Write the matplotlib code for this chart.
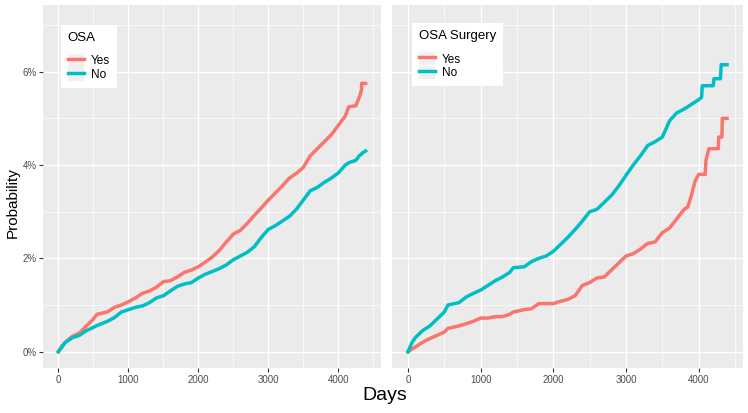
import matplotlib.pyplot as plt
import numpy as np
from matplotlib.lines import Line2D
from matplotlib.patches import Rectangle
from matplotlib.legend_handler import HandlerLine2D
from matplotlib.ticker import FuncFormatter, MultipleLocator

plt.rcParams["font.family"] = ["Liberation Sans", "DejaVu Sans"]

RED = "#F8766D"
BLUE = "#00BFC4"

# left panel: OSA yes / no  (days, cumulative probability in %)
osa_days = [0, 50, 100, 200, 300, 400, 500, 550, 700, 800, 900, 1000, 1100, 1200, 1300, 1400,
            1500, 1600, 1700, 1800, 1900, 2000, 2100, 2200, 2300, 2400, 2500, 2600, 2700,
            2800, 2900, 3000, 3100, 3200, 3300, 3400, 3500, 3600, 3700, 3800, 3900, 4000,
            4100, 4150, 4250, 4300, 4330, 4335, 4390]
osa_yes = [0, 0.12, 0.2, 0.33, 0.4, 0.55, 0.7, 0.8, 0.85, 0.95, 1.0, 1.07, 1.15, 1.25, 1.3, 1.38,
           1.5, 1.52, 1.6, 1.7, 1.75, 1.82, 1.92, 2.03, 2.17, 2.35, 2.52, 2.6, 2.75,
           2.92, 3.08, 3.25, 3.4, 3.55, 3.72, 3.82, 3.95, 4.2, 4.35, 4.5, 4.65, 4.85,
           5.05, 5.25, 5.27, 5.45, 5.6, 5.75, 5.75]
osa_no = [0, 0.1, 0.2, 0.3, 0.35, 0.45, 0.52, 0.56, 0.65, 0.73, 0.85, 0.9, 0.95, 0.98, 1.05, 1.15,
          1.2, 1.3, 1.4, 1.45, 1.48, 1.58, 1.66, 1.72, 1.78, 1.86, 1.97, 2.05, 2.13,
          2.25, 2.45, 2.62, 2.7, 2.8, 2.9, 3.05, 3.25, 3.45, 3.52, 3.63, 3.72, 3.83,
          4.0, 4.05, 4.1, 4.2, 4.23, 4.25, 4.3]

# right panel: OSA surgery yes / no
surg_days = [0, 50, 100, 200, 300, 400, 500, 550, 700, 800, 900, 1000, 1100, 1200, 1300, 1400,
             1450, 1600, 1700, 1800, 1900, 2000, 2100, 2200, 2300, 2400, 2500, 2600, 2700,
             2800, 2900, 3000, 3100, 3200, 3300, 3400, 3500, 3600, 3700, 3800, 3850, 3900,
             3950, 4000, 4040, 4050, 4090, 4100, 4140, 4200, 4210, 4270, 4275, 4300, 4310,
             4320, 4325, 4390]
surg_yes = [0, 0.05, 0.1, 0.2, 0.28, 0.35, 0.42, 0.5, 0.55, 0.6, 0.65, 0.72, 0.72, 0.75, 0.75, 0.8,
            0.85, 0.9, 0.92, 1.03, 1.03, 1.03, 1.08, 1.12, 1.2, 1.42, 1.48, 1.58, 1.6,
            1.75, 1.9, 2.05, 2.1, 2.2, 2.32, 2.35, 2.55, 2.65, 2.85, 3.05, 3.1, 3.35,
            3.65, 3.8, 3.8, 3.8, 3.8, 4.1, 4.35, 4.35, 4.35, 4.35, 4.6, 4.6, 4.6,
            4.6, 5.0, 5.0]
surg_no = [0, 0.18, 0.3, 0.45, 0.55, 0.7, 0.85, 1.0, 1.05, 1.17, 1.25, 1.32, 1.42, 1.52, 1.6, 1.7,
           1.8, 1.82, 1.93, 2.0, 2.05, 2.15, 2.3, 2.45, 2.62, 2.8, 3.0, 3.05, 3.2,
           3.35, 3.55, 3.78, 4.0, 4.2, 4.42, 4.5, 4.6, 4.95, 5.12, 5.2, 5.25, 5.3,
           5.35, 5.4, 5.45, 5.7, 5.7, 5.7, 5.7, 5.7, 5.85, 5.85, 5.85, 5.85, 6.15,
           6.15, 6.15, 6.15]

x_ticks = [0, 1000, 2000, 3000, 4000]
y_ticks = [0, 2, 4, 6]


class KeyHandler(HandlerLine2D):
    # ggplot style key: grey square behind the line
    def create_artists(self, legend, orig_handle, xdescent, ydescent, width, height, fontsize, trans):
        bg = Rectangle((-xdescent, -ydescent), width, height,
                       facecolor="#F0F0F0", edgecolor="none", transform=trans)
        arts = super().create_artists(legend, orig_handle, xdescent, ydescent, width, height, fontsize, trans)
        return [bg] + list(arts)


def style_panel(ax, show_ylabels):
    ax.set_facecolor("#EBEBEB")
    for s in ax.spines.values():
        s.set_visible(False)
    ax.set_xlim(-220, 4610)
    ax.set_ylim(-0.35, 7.43)
    ax.set_xticks(x_ticks)
    ax.set_yticks(y_ticks)
    ax.xaxis.set_minor_locator(MultipleLocator(500))
    ax.yaxis.set_minor_locator(MultipleLocator(1))
    ax.grid(which="major", color="white", lw=1.0)
    ax.grid(which="minor", color="white", lw=0.5)
    ax.set_axisbelow(True)
    ax.tick_params(which="minor", length=0)
    ax.tick_params(which="major", length=2.7, width=0.8, color="#333333",
                   labelsize=7, labelcolor="#4D4D4D", pad=2)
    ax.yaxis.set_major_formatter(FuncFormatter(lambda v, p: f"{v:.0f}%"))
    if not show_ylabels:
        ax.tick_params(axis="y", which="major", length=0, labelleft=False)


def add_legend(ax, title, anchor):
    handles = [Line2D([], [], color=RED, lw=2.5), Line2D([], [], color=BLUE, lw=2.5)]
    leg = ax.legend(handles, ["Yes", "No"], title=title, loc="upper left", bbox_to_anchor=anchor,
                    fontsize=8.5, title_fontsize=9.5, frameon=True, fancybox=False,
                    handlelength=1.35, handleheight=1.35, labelspacing=0.0, handletextpad=0.6,
                    borderpad=0.6, borderaxespad=0, alignment="left",
                    handler_map={Line2D: KeyHandler()})
    leg._legend_box.sep = 7
    leg.get_frame().set_facecolor("white")
    leg.get_frame().set_edgecolor("none")
    leg.get_frame().set_alpha(1)
    return leg


fig = plt.figure(figsize=(7.48, 4.13), dpi=100)
W, H = 748, 413
ax1 = fig.add_axes([43 / W, (H - 368) / H, 338 / W, 363 / H])
ax2 = fig.add_axes([392 / W, (H - 368) / H, 351 / W, 363 / H])

ax1.plot(osa_days, osa_yes, color=RED, lw=2.5)
ax1.plot(osa_days, osa_no, color=BLUE, lw=2.5)
ax2.plot(surg_days, surg_yes, color=RED, lw=2.5)
ax2.plot(surg_days, surg_no, color=BLUE, lw=2.5)

style_panel(ax1, True)
style_panel(ax2, False)
add_legend(ax1, "OSA", (0.052, 0.945))
add_legend(ax2, "OSA Surgery", (0.057, 0.95))

fig.text(13 / W, 1 - 203 / H, "Probability", rotation=90, ha="center", va="center", fontsize=11)
fig.text(385 / W, 1 - 396 / H, "Days", ha="center", va="center", fontsize=14)

fig.savefig("out.png", dpi=100, facecolor="white")
